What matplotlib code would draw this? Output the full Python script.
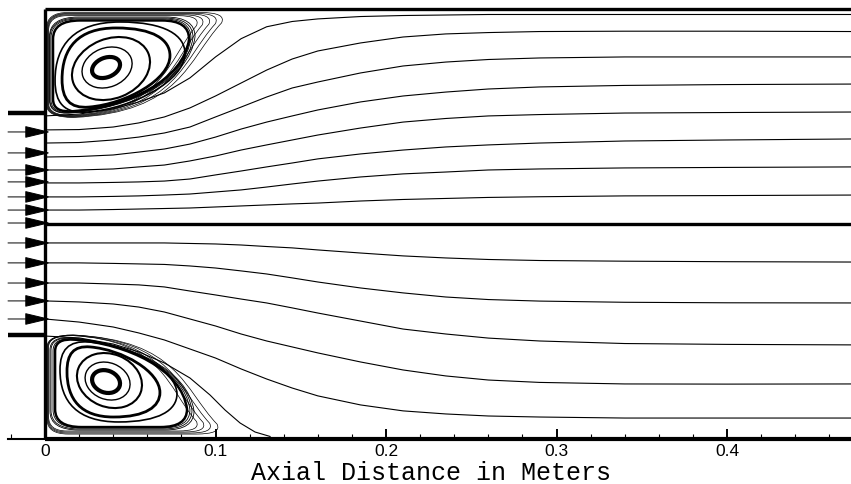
import numpy as np
import matplotlib.pyplot as plt
from matplotlib.path import Path
from matplotlib.patches import PathPatch, Ellipse
from matplotlib.transforms import Affine2D
from matplotlib.ticker import MultipleLocator, FuncFormatter

plt.rcParams['font.family'] = ['Liberation Sans', 'DejaVu Sans']

# geometry of the sudden expansion (meters)
X_INLET = -0.0217
X_END = 0.4727
Y_TOP = 0.2519
Y_AXIS = 0.1258
Y_STEP_UP = 0.1909
Y_STEP_LO = 0.0607

# streamlines, sampled at common axial stations
X_GRID = [0.0, 0.02, 0.04, 0.055, 0.07, 0.085, 0.10, 0.115, 0.13, 0.145,
          0.16, 0.185, 0.21, 0.235, 0.26, 0.29, 0.34, 0.40, 0.475]

upper_1 = [0.1892, 0.1903, 0.1933, 0.1974, 0.2027, 0.2115, 0.2238, 0.2345, 0.2415,
           0.2446, 0.2461, 0.2475, 0.2481, 0.2484, 0.2487, 0.2487, 0.2487, 0.2487, 0.2487]
upper_2 = [0.1810, 0.1812, 0.1827, 0.1851, 0.1886, 0.1939, 0.2009, 0.2085, 0.2161,
           0.2226, 0.2273, 0.2320, 0.2355, 0.2373, 0.2381, 0.2387, 0.2389, 0.2389, 0.2387]
upper_3 = [0.1733, 0.1736, 0.1751, 0.1768, 0.1792, 0.1827, 0.1886, 0.1944, 0.2003,
           0.2056, 0.2091, 0.2144, 0.2185, 0.2208, 0.2223, 0.2232, 0.2238, 0.2238, 0.2238]
upper_4 = [0.1651, 0.1654, 0.1663, 0.1680, 0.1698, 0.1727, 0.1768, 0.1815, 0.1856,
           0.1892, 0.1927, 0.1974, 0.2009, 0.2032, 0.2050, 0.2062, 0.2071, 0.2076, 0.2079]
upper_5 = [0.1575, 0.1575, 0.1581, 0.1593, 0.1604, 0.1628, 0.1657, 0.1692, 0.1722,
           0.1751, 0.1780, 0.1821, 0.1856, 0.1877, 0.1892, 0.1900, 0.1909, 0.1912, 0.1915]
upper_6 = [0.1499, 0.1499, 0.1502, 0.1505, 0.1510, 0.1522, 0.1546, 0.1569, 0.1593,
           0.1616, 0.1640, 0.1669, 0.1692, 0.1710, 0.1722, 0.1733, 0.1745, 0.1751, 0.1757]
upper_7 = [0.1417, 0.1417, 0.1420, 0.1423, 0.1428, 0.1434, 0.1446, 0.1458, 0.1475,
           0.1493, 0.1510, 0.1534, 0.1552, 0.1563, 0.1575, 0.1581, 0.1587, 0.1590, 0.1593]
upper_8 = [0.1340, 0.1340, 0.1343, 0.1346, 0.1349, 0.1352, 0.1358, 0.1364, 0.1370,
           0.1376, 0.1381, 0.1393, 0.1402, 0.1408, 0.1414, 0.1418, 0.1423, 0.1425, 0.1428]

lower_1 = [0.1147, 0.1147, 0.1147, 0.1147, 0.1147, 0.1144, 0.1141, 0.1135, 0.1126,
           0.1118, 0.1106, 0.1088, 0.1071, 0.1059, 0.1050, 0.1044, 0.1040, 0.1037, 0.1035]
lower_2 = [0.1030, 0.1030, 0.1027, 0.1024, 0.1021, 0.1012, 0.1000, 0.0983, 0.0965,
           0.0942, 0.0918, 0.0883, 0.0854, 0.0830, 0.0815, 0.0806, 0.0799, 0.0796, 0.0795]
lower_3 = [0.0912, 0.0912, 0.0906, 0.0901, 0.0889, 0.0865, 0.0842, 0.0818, 0.0795,
           0.0766, 0.0736, 0.0689, 0.0642, 0.0613, 0.0589, 0.0572, 0.0557, 0.0552, 0.0549]
lower_4 = [0.0807, 0.0801, 0.0789, 0.0771, 0.0742, 0.0701, 0.0660, 0.0613, 0.0572,
           0.0537, 0.0502, 0.0449, 0.0402, 0.0367, 0.0343, 0.0329, 0.0320, 0.0319, 0.0320]
lower_5 = [0.0701, 0.0683, 0.0654, 0.0619, 0.0578, 0.0525, 0.0472, 0.0408, 0.0349,
           0.0296, 0.0250, 0.0197, 0.0162, 0.0144, 0.0132, 0.0126, 0.0120, 0.0120, 0.0120]

# dividing streamline of the lower recirculation, down to reattachment
sep_x = [0.0, 0.02, 0.04, 0.055, 0.07, 0.085, 0.0968, 0.1056, 0.1144, 0.1232, 0.132]
sep_y = [0.0601, 0.0590, 0.0554, 0.0508, 0.0443, 0.0355, 0.0255, 0.0167,
         0.0091, 0.0038, 0.0012]

# inlet stations carrying arrows
inlet_y = [0.1798, 0.1675, 0.1575, 0.1505, 0.1417, 0.1340, 0.1264,
           0.1147, 0.1030, 0.0912, 0.0807, 0.0701]

# recirculation cores: (x_center, y_center, width, height, angle)
top_cores = [(0.0358, 0.2176, 0.0171, 0.0114, 22),
             (0.0364, 0.2176, 0.0303, 0.0229, 22),
             (0.0387, 0.2170, 0.0473, 0.0350, 22)]
bot_cores = [(0.0358, 0.0334, 0.0168, 0.0129, -20),
             (0.0367, 0.0337, 0.0271, 0.0214, -22),
             (0.0378, 0.0340, 0.0392, 0.0310, -22)]
core_lw = [3.0, 1.0, 1.5]

# outer closed streamlines: (x_left, x_right, y_low, y_high)
top_eggs = [(0.0100, 0.0733, 0.1944, 0.2408),
            (0.0059, 0.0821, 0.1915, 0.2443)]
top_rings = [(0.0047, 0.0845, 0.1909, 0.2452),
             (0.0035, 0.0856, 0.1903, 0.2461),
             (0.0029, 0.0868, 0.1900, 0.2466),
             (0.0026, 0.0880, 0.1898, 0.2472)]
top_tips = [(0.0021, 0.0915, 0.1895, 0.2480),
            (0.0018, 0.0950, 0.1892, 0.2485),
            (0.0015, 0.0990, 0.1889, 0.2490),
            (0.0012, 0.1030, 0.1886, 0.2494),
            (0.0009, 0.1067, 0.1883, 0.2499)]
bot_eggs = [(0.0129, 0.0674, 0.0126, 0.0537),
            (0.0088, 0.0774, 0.0097, 0.0566)]
bot_rings = [(0.0059, 0.0833, 0.0067, 0.0590),
             (0.0047, 0.0850, 0.0062, 0.0594),
             (0.0035, 0.0862, 0.0056, 0.0598),
             (0.0029, 0.0874, 0.0050, 0.0601)]
bot_tips = [(0.0021, 0.0915, 0.0044, 0.0604),
            (0.0018, 0.0955, 0.0038, 0.0604),
            (0.0015, 0.0995, 0.0032, 0.0607),
            (0.0012, 0.1040, 0.0026, 0.0607)]
egg_lw = [2.0, 1.2]
ring_lw = [1.8, 0.6, 0.6, 0.6]

# unit shapes of the closed loops (sharp corner at lower left, tip at upper right)
egg_verts = [(0.0, 0.35), (0.0, 0.75), (0.15, 1.0), (0.5, 1.0),
             (0.85, 1.0), (1.0, 0.85), (1.0, 0.65),
             (1.0, 0.35), (0.6, 0.04), (0.25, 0.0),
             (0.07, -0.02), (0.0, 0.1), (0.0, 0.35)]
egg_codes = [Path.MOVETO] + [Path.CURVE4] * 12
ring_verts = [(0.0, 0.5), (0.0, 0.8), (0.0, 1.0), (0.2, 1.0), (0.8, 1.0),
              (1.0, 1.0), (1.0, 0.8), (0.96, 0.35), (0.55, 0.07), (0.15, 0.02),
              (0.0, 0.0), (0.0, 0.15), (0.0, 0.5)]
tip_verts = [(0.0, 0.5), (0.0, 0.85), (0.0, 1.0), (0.12, 1.0), (0.85, 1.0),
             (1.0, 1.0), (0.97, 0.9), (0.78, 0.55), (0.75, 0.05), (0.15, 0.0),
             (0.0, 0.0), (0.0, 0.12), (0.0, 0.5)]
loop_codes = [Path.MOVETO, Path.LINETO, Path.CURVE3, Path.CURVE3, Path.LINETO,
              Path.CURVE3, Path.CURVE3, Path.CURVE4, Path.CURVE4, Path.CURVE4,
              Path.CURVE3, Path.CURVE3, Path.LINETO]
egg_path = Path(egg_verts, egg_codes)
ring_path = Path(ring_verts, loop_codes)
tip_path = Path(tip_verts, loop_codes)

fig = plt.figure(figsize=(8.51, 4.84), dpi=100)
ax = fig.add_axes([8 / 851, 45.5 / 484, 843 / 851, 438.5 / 484])
ax.set_xlim(X_INLET, X_END)
ax.set_ylim(0, 0.2572)

for ys in [upper_1, upper_2, upper_3, upper_4, upper_5, upper_6, upper_7, upper_8,
           lower_1, lower_2, lower_3, lower_4, lower_5]:
    ax.plot(X_GRID, ys, color='k', lw=0.8)
ax.plot(sep_x, sep_y, color='k', lw=0.8)


def draw_loop(path, box, lw, flip):
    x0, x1, y0, y1 = box
    if flip:
        tr = Affine2D().scale(x1 - x0, -(y1 - y0)).translate(x0, y1)
    else:
        tr = Affine2D().scale(x1 - x0, y1 - y0).translate(x0, y0)
    ax.add_patch(PathPatch(path, transform=tr + ax.transData, fill=False,
                           ec='k', lw=lw))


for cores, eggs, rings, tips, flip in [
        (top_cores, top_eggs, top_rings, top_tips, False),
        (bot_cores, bot_eggs, bot_rings, bot_tips, True)]:
    for (cx, cy, w, h, ang), lw in zip(cores, core_lw):
        ax.add_patch(Ellipse((cx, cy), w, h, angle=ang, fill=False, ec='k', lw=lw))
    for box, lw in zip(eggs, egg_lw):
        draw_loop(egg_path, box, lw, flip)
    for box, lw in zip(rings, ring_lw):
        draw_loop(ring_path, box, lw, flip)
    for box in tips:
        draw_loop(tip_path, box, 0.5, flip)

# inflow arrows
for y in inlet_y:
    ax.annotate('', xy=(0.003, y), xytext=(X_INLET, y),
                arrowprops=dict(arrowstyle='-|>,head_length=1.6,head_width=0.38',
                                mutation_scale=10, color='k', lw=0.7,
                                shrinkA=0, shrinkB=0))

# walls, step faces and symmetry line
wall = dict(color='k', lw=2.4, solid_capstyle='butt', clip_on=False)
ax.plot([0, X_END], [Y_TOP, Y_TOP], **wall)
ax.plot([0, X_END], [Y_AXIS, Y_AXIS], **wall)
ax.plot([0, X_END], [0, 0], color='k', lw=3.0, solid_capstyle='butt', clip_on=False)
ax.plot([0, 0], [0, Y_TOP], **wall)
ax.plot([X_INLET, 0], [Y_STEP_UP, Y_STEP_UP], color='k', lw=3.2,
        solid_capstyle='butt', clip_on=False)
ax.plot([X_INLET, 0], [Y_STEP_LO, Y_STEP_LO], color='k', lw=3.2,
        solid_capstyle='butt', clip_on=False)

for side in ['top', 'right', 'left']:
    ax.spines[side].set_visible(False)
ax.spines['bottom'].set_linewidth(1.5)
ax.set_yticks([])
ax.xaxis.set_major_locator(MultipleLocator(0.1))
ax.xaxis.set_minor_locator(MultipleLocator(0.02))
ax.xaxis.set_major_formatter(FuncFormatter(lambda v, p: '%g' % round(v, 3)))
ax.tick_params(axis='x', which='major', direction='in', length=7, width=1.4, pad=4,
               labelsize=12.5)
ax.tick_params(axis='x', which='minor', direction='in', length=3.5, width=0.8)

fig.text(431 / 851, 4 / 484, 'Axial Distance in Meters', ha='center', va='baseline',
         family=['Liberation Mono', 'DejaVu Sans Mono'], fontsize=18)

fig.savefig('out.png', dpi=100)
